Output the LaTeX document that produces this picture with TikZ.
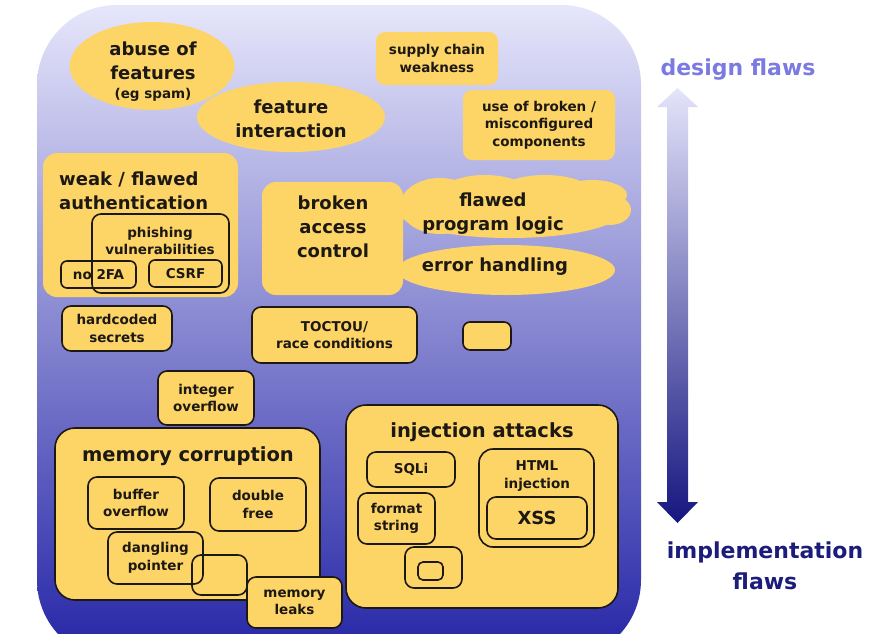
\documentclass[tikz,border=0pt]{standalone}
\usepackage{fontspec}
\setmainfont{DejaVu Sans}
\usetikzlibrary{shapes.geometric,positioning}

\definecolor{flawyellow}{RGB}{253,212,102}
\definecolor{inkdark}{RGB}{28,24,20}
\definecolor{bgtop}{RGB}{230,230,251}
\definecolor{bgmid}{RGB}{150,150,236}
\definecolor{bgbot}{RGB}{36,36,166}
\definecolor{designblue}{RGB}{122,122,226}
\definecolor{implblue}{RGB}{28,28,122}
\definecolor{arrtop}{RGB}{228,228,251}
\definecolor{arrbot}{RGB}{22,22,128}

\newcommand\flawsmall{\bfseries\fontsize{13.5}{17.5}\selectfont}
\newcommand\flawbig{\bfseries\fontsize{18}{24}\selectfont}
\newcommand\flawhead{\bfseries\fontsize{19.5}{24}\selectfont}
\newcommand\flawside{\bfseries\fontsize{22}{31}\selectfont}

\begin{document}
\begin{tikzpicture}[x=1pt, y=-1pt,
  every node/.style={font=\flawsmall, text=inkdark, align=center, inner sep=0pt},
  plainbox/.style={fill=flawyellow, rounded corners=14pt},
  flawbox/.style={draw=inkdark, line width=1.6pt, fill=flawyellow, rounded corners=9pt},
  flawline/.style={draw=inkdark, line width=1.6pt, rounded corners=9pt},
  bubble/.style={ellipse, fill=flawyellow}]

  \useasboundingbox (0,0) rectangle (881,633);

  % ===== background and scale arrow =====
  \shade[rounded corners=80pt, top color=bgtop, middle color=bgmid, bottom color=bgbot]
    (37,5) rectangle (641,660);
  \shade[top color=arrtop, bottom color=arrbot]
    (677.5,88) -- (698,107) -- (688,107) -- (688,502) -- (698,502) -- (677.5,523)
    -- (657,502) -- (667,502) -- (667,107) -- (657,107) -- cycle;
  \node[font=\flawside, text=designblue] (design) at (738,70) {design flaws};
  \node[font=\flawside, text=implblue] (impl) at (765,566) {implementation\\flaws};

  % ===== design level =====
  \node[bubble, minimum width=165pt, minimum height=88pt] (abuse) at (152,66) {};
  \node[font=\flawbig] (abusetxt) at (153,61) {abuse of\\features};
  \node (spam) at (153,95) {(eg spam)};

  \node[bubble, minimum width=188pt, minimum height=70pt] (featint) at (291,117) {};
  \node[font=\flawbig] (featinttxt) at (291,119) {feature\\interaction};

  \node[plainbox, rounded corners=9pt, minimum width=122pt, minimum height=53pt] (supply) at (437,58.5) {supply chain\\weakness};
  \node[plainbox, rounded corners=9pt, minimum width=152pt, minimum height=70pt] (components) at (539,125) {use of broken /\\misconfigured\\components};

  % weak authentication
  \node[plainbox, minimum width=195pt, minimum height=144pt] (weakauth) at (140.5,225) {};
  \node[font=\flawbig, align=left, anchor=west] (weaktitle) at (59,191) {weak / flawed\\authentication};
  \node[flawline, minimum width=137pt, minimum height=79pt] (phish) at (160.5,253.5) {};
  \node (phishtxt) at (160,241) {phishing\\vulnerabilities};
  \node[flawline, rounded corners=6pt, minimum width=75pt, minimum height=27pt] (notwofa) at (98.5,274.5) {no 2FA};
  \node[flawline, rounded corners=6pt, minimum width=73pt, minimum height=27pt] (csrf) at (185.5,273.5) {CSRF};

  % access control and logic (cloud made of puffs)
  \node[plainbox, minimum width=141pt, minimum height=113pt] (access) at (332.5,238.5) {};
  \node[font=\flawbig] (accesstxt) at (333,227) {broken\\access\\control};
  \foreach \cx/\cy/\cw/\ch [count=\i] in {510/212/222/52, 440/206/80/56, 485/194/90/38,
      545/191/90/32, 592/195/70/30, 610/210/42/30}
    \node[bubble, minimum width=\cw pt, minimum height=\ch pt] (logic\i) at (\cx,\cy) {};
  \node[font=\flawbig] (logictxt) at (493,214) {flawed\\program logic};
  \node[bubble, minimum width=218pt, minimum height=50pt] (errh) at (506,270) {};
  \node[font=\flawbig] (errhtxt) at (495,267) {error handling};

  % ===== middle =====
  \node[flawbox, minimum width=110pt, minimum height=45pt] (secrets) at (117,328.5) {hardcoded\\secrets};
  \node[flawbox, minimum width=165pt, minimum height=56pt] (toctou) at (334.5,335) {TOCTOU/\\race conditions};
  \node[flawbox, rounded corners=7pt, minimum width=48pt, minimum height=28pt] (spare) at (487,336) {};
  \node[flawbox, minimum width=96pt, minimum height=54pt] (intover) at (206,398) {integer\\overflow};

  % ===== memory corruption =====
  \node[flawbox, rounded corners=20pt, minimum width=265pt, minimum height=172pt] (memcorr) at (187.5,514) {};
  \node[font=\flawhead] (memtitle) at (188,456) {memory corruption};
  \node[flawline, minimum width=96pt, minimum height=52pt] (buffer) at (136,503) {buffer\\overflow};
  \node[flawline, minimum width=96pt, minimum height=53pt] (dfree) at (258,504.5) {double\\free};
  \node[flawline, minimum width=95pt, minimum height=52pt] (dangling) at (155.5,558) {dangling\\pointer};
  \node[flawline, minimum width=55pt, minimum height=40pt] (memspare) at (219.5,575) {};
  \node[flawbox, minimum width=95pt, minimum height=51pt] (leaks) at (294.5,602.5) {memory\\leaks};

  % ===== injection attacks =====
  \node[flawbox, rounded corners=20pt, minimum width=272pt, minimum height=203pt] (inject) at (482,506.5) {};
  \node[font=\flawhead] (injtitle) at (482,432) {injection attacks};
  \node[flawline, minimum width=88pt, minimum height=35pt] (sqli) at (411,469.5) {SQLi};
  \node[flawline, minimum width=77pt, minimum height=51pt] (fmtstr) at (396.5,518.5) {format\\string};
  \node[flawline, minimum width=57pt, minimum height=41pt] (injspare) at (433.5,567.5) {};
  \node[flawline, rounded corners=5pt, minimum width=25pt, minimum height=18pt] (injinner) at (430.5,571) {};
  \node[flawline, rounded corners=14pt, minimum width=115pt, minimum height=98pt] (html) at (536.5,498) {};
  \node (htmltxt) at (537,476) {HTML\\injection};
  \node[flawline, font=\flawbig, minimum width=100pt, minimum height=42pt] (xss) at (537,518) {XSS};

\end{tikzpicture}
\end{document}
